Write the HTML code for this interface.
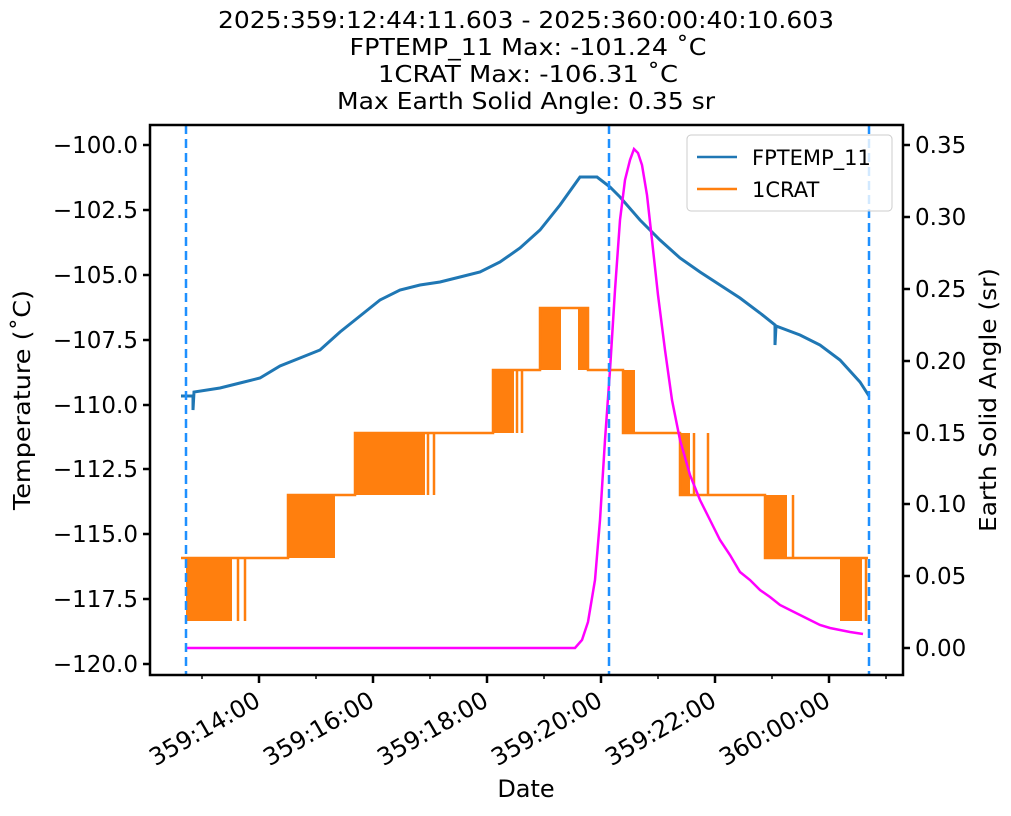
<!DOCTYPE html>
<html><head><meta charset="utf-8"><style>
body{margin:0;background:#fff;}
svg text{font-family:"DejaVu Sans","Liberation Sans",sans-serif;fill:#000;}
</style></head><body>
<svg width="1011" height="811" viewBox="0 0 1011 811" xmlns="http://www.w3.org/2000/svg">
<g font-size="23" text-anchor="middle">
<text x="526" y="28" textLength="616" lengthAdjust="spacingAndGlyphs">2025:359:12:44:11.603 - 2025:360:00:40:10.603</text>
<text x="528" y="55" textLength="357" lengthAdjust="spacingAndGlyphs">FPTEMP_11 Max: -101.24 ˚C</text>
<text x="528" y="82" textLength="300" lengthAdjust="spacingAndGlyphs">1CRAT Max: -106.31 ˚C</text>
<text x="526" y="109" textLength="378" lengthAdjust="spacingAndGlyphs">Max Earth Solid Angle: 0.35 sr</text>
</g>
<!-- orange -->
<g fill="#ff7f0e" stroke="#ff7f0e">
<rect x="186" y="558" width="46" height="63" stroke="none"/>
<rect x="288" y="495" width="47" height="63" stroke="none"/>
<rect x="355" y="433" width="70" height="62" stroke="none"/>
<rect x="493" y="370" width="21" height="63" stroke="none"/>
<rect x="540" y="308" width="21" height="62" stroke="none"/>
<rect x="578" y="308" width="10" height="62" stroke="none"/>
<rect x="623" y="370" width="12" height="63" stroke="none"/>
<rect x="680" y="433" width="10" height="62" stroke="none"/>
<rect x="765" y="495" width="22" height="63" stroke="none"/>
<rect x="840" y="558" width="22" height="63" stroke="none"/>
<g stroke-width="2.5" fill="none">
<path d="M238 558V621M245 558V621M428 433V495M434 433V495M517 370V433M522 370V433M694 433V495M708 433V495M793 495V558M866 558V621"/>
<path d="M181 558H288V495H355V433H493V370H540V308H588V370H623V433H680V495H765V558H840V558H868"/>
</g></g>
<!-- blue -->
<polyline fill="none" stroke="#1f77b4" stroke-width="3" points="181,396 186,396 193,396 193,410 194,392 220,388 240,383 260,378 280,366 300,358 320,350 340,332 360,316 380,300 400,290 420,285 440,282 460,277 480,272 500,262 520,248 540,230 560,205 580,177 597,177 610,187 620,197 640,220 660,240 680,258 700,272 720,285 740,298 760,313 775,325 775,345 776,326 800,335 820,345 840,360 860,382 869,396"/>
<!-- magenta -->
<polyline fill="none" stroke="#ff00ff" stroke-width="2.5" points="186,648 575,648 582,640 588,622 595,580 600,520 605,440 610,370 615,290 620,220 625,180 630,160 634,149 638,153 642,165 647,195 652,240 658,295 665,350 672,400 680,440 690,475 700,500 710,520 720,540 730,555 740,572 750,580 760,590 770,597 780,605 790,610 800,615 810,620 820,625 830,628 840,630 850,632 863,634"/>
<!-- dashed -->
<g stroke="#1e90ff" stroke-width="2.5" stroke-dasharray="9,5">
<line x1="186" y1="125" x2="186" y2="675"/><line x1="609" y1="125" x2="609" y2="675"/><line x1="869" y1="125" x2="869" y2="675"/>
</g>
<rect x="150" y="125" width="753" height="550" fill="none" stroke="#000" stroke-width="2.5"/>
<g stroke="#000" stroke-width="2.5">
<path d="M143 145H150M143 210H150M143 275H150M143 340H150M143 405H150M143 469H150M143 534H150M143 599H150M143 664H150"/>
<path d="M903 648H910M903 576H910M903 504H910M903 433H910M903 361H910M903 289H910M903 217H910M903 145H910"/>
<path d="M259 675V683M373 675V683M487 675V683M601 675V683M715 675V683M829 675V683"/>
<path d="M202 675V679M316 675V679M430 675V679M544 675V679M658 675V679M772 675V679M886 675V679" stroke-width="1.5"/>
</g>
<g font-size="23" text-anchor="end">
<text x="138" y="153">−100.0</text><text x="138" y="218">−102.5</text><text x="138" y="283">−105.0</text>
<text x="138" y="348">−107.5</text><text x="138" y="413">−110.0</text><text x="138" y="477">−112.5</text>
<text x="138" y="542">−115.0</text><text x="138" y="607">−117.5</text><text x="138" y="672">−120.0</text>
</g>
<g font-size="23">
<text x="915" y="656">0.00</text><text x="915" y="584">0.05</text><text x="915" y="512">0.10</text>
<text x="915" y="441">0.15</text><text x="915" y="369">0.20</text><text x="915" y="297">0.25</text>
<text x="915" y="225">0.30</text><text x="915" y="153">0.35</text>
</g>
<g font-size="24" text-anchor="end">
<text transform="translate(262,705) rotate(-30)">359:14:00</text>
<text transform="translate(376,705) rotate(-30)">359:16:00</text>
<text transform="translate(490,705) rotate(-30)">359:18:00</text>
<text transform="translate(604,705) rotate(-30)">359:20:00</text>
<text transform="translate(718,705) rotate(-30)">359:22:00</text>
<text transform="translate(832,705) rotate(-30)">360:00:00</text>
</g>
<text x="526" y="797" font-size="24" text-anchor="middle">Date</text>
<text transform="translate(30,400) rotate(-90)" font-size="23" text-anchor="middle" textLength="220" lengthAdjust="spacingAndGlyphs">Temperature (˚C)</text>
<text transform="translate(996,400) rotate(-90)" font-size="23" text-anchor="middle" textLength="264" lengthAdjust="spacingAndGlyphs">Earth Solid Angle (sr)</text>
<!-- legend -->
<rect x="687" y="135" width="205" height="76" rx="4" fill="#fff" fill-opacity="0.8" stroke="#ccc"/>
<line x1="697" y1="157" x2="737" y2="157" stroke="#1f77b4" stroke-width="2.5"/>
<line x1="697" y1="189" x2="737" y2="189" stroke="#ff7f0e" stroke-width="2.5"/>
<text x="752" y="165" font-size="21">FPTEMP_11</text>
<text x="752" y="197" font-size="21">1CRAT</text>
</svg>
</body></html>
